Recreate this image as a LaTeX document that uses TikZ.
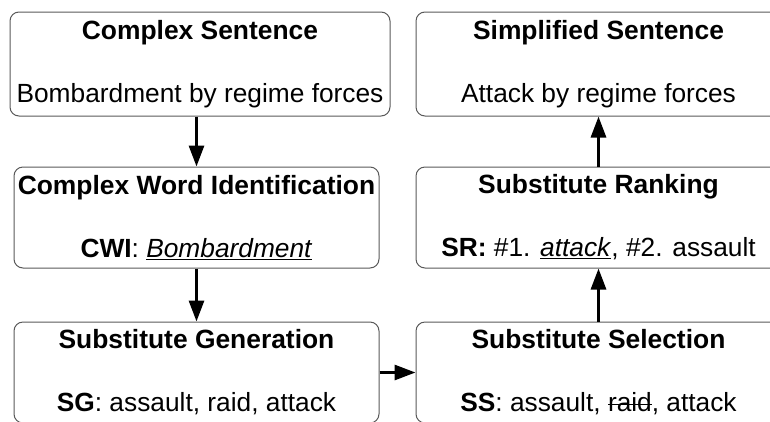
\documentclass[tikz,border=0pt]{standalone}
\usepackage{fontspec}
\setmainfont{Liberation Sans}
\usetikzlibrary{arrows.meta,positioning}

\newcommand\strikeword[1]{\setbox0\hbox{#1}\rlap{\rule[0.26em]{\wd0}{1.2pt}}#1}
\newcommand\stagetitle[1]{{\fontsize{26.4}{30}\selectfont\textbf{#1}}}

\tikzset{
  stage/.style={rectangle,draw=black!65,line width=1pt,rounded corners=9pt,
    minimum width=365pt,minimum height=101pt,align=center,inner sep=0pt,
    font=\fontsize{26.3}{30}\selectfont},
  flow/.style={line width=3pt,-{Triangle[length=21pt,width=15pt]}}
}

\begin{document}
\begin{tikzpicture}[x=1pt,y=1pt,node distance=155pt]
  \useasboundingbox (0,0) rectangle (770,-421);
  \clip (0,0) rectangle (770,-421);

  \node[stage,minimum width=380pt,minimum height=104pt] (complex) at (200,-64)
    {\stagetitle{Complex Sentence}\\[33pt]Bombardment by regime forces};
  \node[stage,xshift=-3.5pt,yshift=1.5pt] (cwi) [below of=complex]
    {\stagetitle{Complex Word Identification}\\[33pt]\textbf{CWI}: \underline{\textit{Bombardment}}};
  \node[stage] (sg) [below of=cwi]
    {\stagetitle{Substitute Generation}\\[33pt]\textbf{SG}: assault, raid, attack};

  \node[stage,xshift=402pt] (ss) at (sg)
    {\stagetitle{Substitute Selection}\\[33pt]\textbf{SS}: assault, \strikeword{raid}, attack};
  \node[stage] (sr) [above of=ss]
    {\stagetitle{Substitute Ranking}\\[33pt]\textbf{SR:} \#1. \underline{\textit{attack}}, \#2. assault};
  \node[stage,minimum height=104pt,yshift=-1.5pt] (simple) [above of=sr]
    {\stagetitle{Simplified Sentence}\\[33pt]Attack by regime forces};

  \draw[flow] (cwi.north |- complex.south) -- (cwi.north);
  \draw[flow] (cwi) -- (sg);
  \draw[flow] (sg) -- (ss);
  \draw[flow] (ss) -- (sr);
  \draw[flow] (sr) -- (simple.south -| sr.north);

\end{tikzpicture}
\end{document}
